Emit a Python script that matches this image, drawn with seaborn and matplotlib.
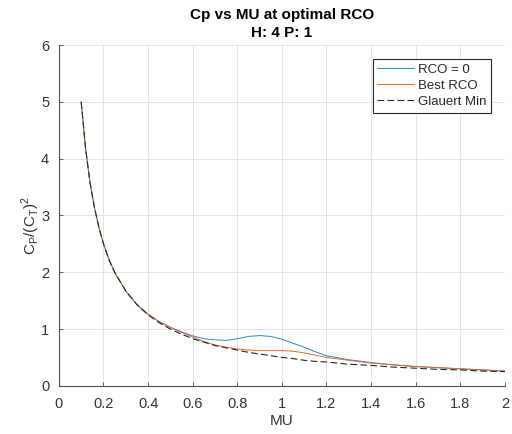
import matplotlib
matplotlib.use("Agg")
import matplotlib.pyplot as plt
import seaborn as sns
import pandas as pd

mu = [0.10, 0.12, 0.14, 0.16, 0.18, 0.20, 0.225, 0.25, 0.30, 0.35, 0.40, 0.45, 0.50,
      0.55, 0.60, 0.65, 0.70, 0.75, 0.80, 0.85, 0.90, 0.95, 1.00, 1.05, 1.10, 1.15,
      1.20, 1.30, 1.40, 1.50, 1.60, 1.70, 1.80, 1.90, 2.00]
rco0 = [5.00, 4.17, 3.57, 3.13, 2.78, 2.50, 2.22, 2.00, 1.67, 1.43, 1.26, 1.13, 1.03,
        0.95, 0.88, 0.83, 0.81, 0.80, 0.83, 0.87, 0.885, 0.87, 0.82, 0.75, 0.68, 0.60,
        0.53, 0.46, 0.41, 0.37, 0.34, 0.32, 0.30, 0.28, 0.26]
best = [5.00, 4.17, 3.57, 3.13, 2.78, 2.50, 2.22, 2.00, 1.67, 1.43, 1.26, 1.13, 1.03,
        0.94, 0.86, 0.78, 0.72, 0.68, 0.65, 0.63, 0.62, 0.62, 0.62, 0.61, 0.58, 0.54,
        0.50, 0.45, 0.40, 0.37, 0.34, 0.32, 0.30, 0.28, 0.26]
glauert = [5.00, 4.17, 3.57, 3.13, 2.78, 2.50, 2.22, 2.00, 1.67, 1.43, 1.25, 1.11, 1.00,
           0.91, 0.83, 0.77, 0.71, 0.67, 0.63, 0.59, 0.56, 0.53, 0.50, 0.48, 0.45, 0.43,
           0.42, 0.38, 0.36, 0.33, 0.31, 0.29, 0.28, 0.26, 0.25]
xticks = [0, 0.2, 0.4, 0.6, 0.8, 1, 1.2, 1.4, 1.6, 1.8, 2]
xticklabels = ["0", "0.2", "0.4", "0.6", "0.8", "1", "1.2", "1.4", "1.6", "1.8", "2"]
yticks = [0, 1, 2, 3, 4, 5, 6]

sns.set_theme(style="whitegrid")
plt.rcParams["font.family"] = ["Liberation Sans", "DejaVu Sans"]

fig = plt.figure(figsize=(5.12, 4.34), dpi=100)
ax = fig.add_axes([0.115, 0.111, 0.871, 0.785])

sns.lineplot(x=mu, y=rco0, ax=ax, color="#2A8AC8", linewidth=0.7, label="RCO = 0")
sns.lineplot(x=mu, y=best, ax=ax, color="#DE6A30", linewidth=0.7, label="Best RCO")
sns.lineplot(x=mu, y=glauert, ax=ax, color="#262626", linewidth=0.8,
             linestyle=(0, (6, 3)), label="Glauert Min")

ax.set_xlim(0, 2)
ax.set_ylim(0, 6)
ax.set_xticks(xticks)
ax.set_xticklabels(xticklabels)
ax.set_yticks(yticks)
ax.set_facecolor("white")
ax.grid(True, color="#e3e3e3", linewidth=0.7)
for s in ["top", "right"]:
    ax.spines[s].set_visible(False)
for s in ["left", "bottom"]:
    ax.spines[s].set_color("#4d4d4d")
    ax.spines[s].set_linewidth(0.8)
ax.tick_params(axis="x", pad=8)
ax.tick_params(axis="y", pad=7)
ax.tick_params(axis="both", direction="in", length=3, width=0.6, color="#4d4d4d",
               labelsize=10.5, labelcolor="#333333", bottom=True, left=True)

ax.set_xlabel("MU", fontsize=11, color="#333333", labelpad=2)
ax.set_ylabel(r"C$_\mathregular{P}$/(C$_\mathregular{T}$)$^\mathregular{2}$",
              fontsize=11, color="#333333")
ax.yaxis.set_label_coords(-0.038, 0.47)
ax.set_title("Cp vs MU at optimal RCO\nH: 4 P: 1", fontsize=11, fontweight="bold",
             color="black", pad=6, linespacing=1.35)

leg = ax.legend(loc="upper right", bbox_to_anchor=(0.97, 0.96), fontsize=9.5,
                frameon=True, fancybox=False, edgecolor="#262626", framealpha=1,
                handlelength=2.8, borderpad=0.35, labelspacing=0.3, handletextpad=0.3,
                borderaxespad=0)
leg.get_frame().set_linewidth(0.8)

fig.savefig("out.png", dpi=100, facecolor="white")
